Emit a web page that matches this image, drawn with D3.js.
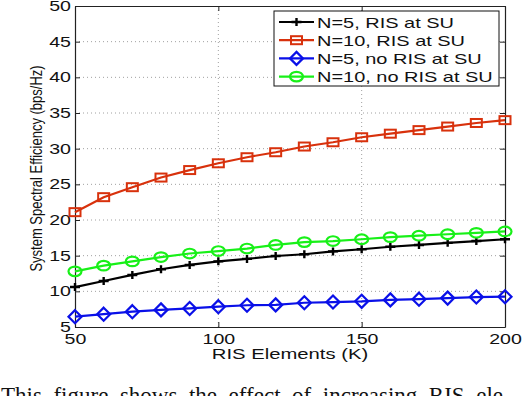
<!DOCTYPE html>
<html>
<head>
<meta charset="utf-8">
<script src="https://cdn.jsdelivr.net/npm/d3@7"></script>
<style>
  body { margin: 0; background: #fff; }
  svg { display: block; }
  text { font-family: "Liberation Sans", Arial, sans-serif; fill: #111; }
</style>
</head>
<body>
<div id="chart"></div>
<script>
// chart size
const width = 522;
const height = 396;
const margin = {top: 6, right: 17, bottom: 69, left: 75};
// the source picture is stretched sideways
const stretch = 1.35;

// data
const risElements = [50, 60, 70, 80, 90, 100, 110, 120, 130, 140, 150, 160, 170, 180, 190, 200];
const n5Ris = [10.6, 11.45, 12.3, 13.1, 13.7, 14.2, 14.55, 14.95, 15.2, 15.6, 15.9, 16.25, 16.5, 16.8, 17.05, 17.3];
const n10Ris = [21.1, 23.2, 24.6, 25.95, 27.0, 27.95, 28.8, 29.5, 30.3, 30.9, 31.6, 32.1, 32.6, 33.1, 33.6, 34.0];
const n5NoRis = [6.45, 6.8, 7.15, 7.4, 7.6, 7.85, 8.05, 8.1, 8.4, 8.5, 8.6, 8.8, 8.9, 9.05, 9.2, 9.25];
const n10NoRis = [12.8, 13.6, 14.2, 14.8, 15.3, 15.65, 16.0, 16.5, 16.9, 17.05, 17.3, 17.6, 17.8, 18.0, 18.2, 18.4];
const seriesNames = ["N=5, RIS at SU", "N=10, RIS at SU", "N=5, no RIS at SU", "N=10, no RIS at SU"];
const xTicks = [50, 100, 150, 200];
const yTicks = [5, 10, 15, 20, 25, 30, 35, 40, 45, 50];

const series = [
    {name: seriesNames[0], values: n5Ris, color: "#000000", marker: "plus"},
    {name: seriesNames[1], values: n10Ris, color: "#d8310c", marker: "square"},
    {name: seriesNames[2], values: n5NoRis, color: "#0a10e8", marker: "diamond"},
    {name: seriesNames[3], values: n10NoRis, color: "#18f018", marker: "circle"}
];

const svg = d3.select("#chart")
    .append("svg")
        .attr("width", width)
        .attr("height", height);

const x = d3.scaleLinear()
    .domain([50, 200])
    .range([margin.left, width - margin.right]);

const y = d3.scaleLinear()
    .domain([5, 50])
    .range([height - margin.bottom, margin.top]);

function widen(sel, f) {
    sel.each(function() {
        const w = this.getComputedTextLength();
        d3.select(this)
            .attr("textLength", w * f)
            .attr("lengthAdjust", "spacingAndGlyphs");
    });
}

// grid
const grid = svg.append("g").attr("class", "grid");
grid.selectAll(".gy")
    .data(yTicks.slice(1, -1))
    .enter()
    .append("line")
        .attr("x1", x.range()[0])
        .attr("x2", x.range()[1])
        .attr("y1", d => y(d))
        .attr("y2", d => y(d))
        .attr("stroke", "#888")
        .attr("stroke-width", 0.8)
        .attr("stroke-dasharray", "1,3");
grid.selectAll(".gx")
    .data(xTicks.slice(1, -1))
    .enter()
    .append("line")
        .attr("x1", d => x(d))
        .attr("x2", d => x(d))
        .attr("y1", y.range()[0])
        .attr("y2", y.range()[1])
        .attr("stroke", "#888")
        .attr("stroke-width", 0.8)
        .attr("stroke-dasharray", "1,3");

// axes (ticks inward, matlab box style)
const xAxis = svg.append("g")
    .attr("transform", `translate(0,${y.range()[0]})`)
    .call(d3.axisBottom(x).tickValues(xTicks).tickSizeInner(-5).tickSizeOuter(0).tickPadding(7));
const yAxis = svg.append("g")
    .attr("transform", `translate(${x.range()[0]},0)`)
    .call(d3.axisLeft(y).tickValues(yTicks).tickSizeInner(-5).tickSizeOuter(0).tickPadding(4));
svg.append("g")
    .attr("transform", `translate(0,${y.range()[1]})`)
    .call(d3.axisTop(x).tickValues(xTicks).tickSizeInner(-5).tickSizeOuter(0).tickFormat(""));
svg.append("g")
    .attr("transform", `translate(${x.range()[1]},0)`)
    .call(d3.axisRight(y).tickValues(yTicks).tickSizeInner(-5).tickSizeOuter(0).tickFormat(""));

svg.selectAll(".domain").attr("stroke", "#222").attr("stroke-width", 1.2);
svg.selectAll(".tick line").attr("stroke", "#222");
svg.selectAll(".tick text")
    .attr("font-size", 14.5)
    .attr("font-family", null)
    .attr("fill", "#111")
    .call(widen, stretch);

// axis labels
svg.append("text")
    .attr("x", 290)
    .attr("y", 359)
    .attr("text-anchor", "middle")
    .attr("font-size", 15)
    .text("RIS Elements (K)")
    .call(widen, stretch);

svg.append("text")
    .attr("transform", `translate(42,${(y.range()[0] + y.range()[1]) / 2 + 2}) rotate(-90) scale(1,1.2)`)
    .attr("text-anchor", "middle")
    .attr("font-size", 13)
    .text("System Spectral Efficiency (bps/Hz)");

// markers
function drawMarker(g, type, color) {
    if (type == "plus") {
        g.append("path")
            .attr("d", "M -5 0 L 5 0 M 0 -4 L 0 4")
            .attr("stroke", color).attr("stroke-width", 2.4).attr("fill", "none");
    } else if (type == "square") {
        g.append("rect")
            .attr("x", -5.5).attr("y", -4).attr("width", 11).attr("height", 8)
            .attr("stroke", color).attr("stroke-width", 2).attr("fill", "none");
    } else if (type == "diamond") {
        g.append("path")
            .attr("d", "M 0 -6.5 L 6.5 0 L 0 6.5 L -6.5 0 Z")
            .attr("stroke", color).attr("stroke-width", 2.2).attr("fill", "none");
    } else if (type == "circle") {
        g.append("ellipse")
            .attr("rx", 6.5).attr("ry", 4.8)
            .attr("stroke", color).attr("stroke-width", 2.2).attr("fill", "none");
    }
}

const line = d3.line()
    .x((d, i) => x(risElements[i]))
    .y(d => y(d));

series.forEach(s => {
    svg.append("path")
        .datum(s.values)
        .attr("d", line)
        .attr("fill", "none")
        .attr("stroke", s.color)
        .attr("stroke-width", 2.2);
    s.values.forEach((v, i) => {
        const g = svg.append("g")
            .attr("transform", `translate(${x(risElements[i])},${y(v)})`);
        drawMarker(g, s.marker, s.color);
    });
});

// legend
const legend = svg.append("g").attr("transform", "translate(274,11)");
legend.append("rect")
    .attr("width", 225)
    .attr("height", 75)
    .attr("fill", "#fff")
    .attr("stroke", "#111")
    .attr("stroke-width", 1);
series.forEach((s, i) => {
    const row = legend.append("g").attr("transform", `translate(0,${11 + i * 18.2})`);
    row.append("line")
        .attr("x1", 5).attr("x2", 40)
        .attr("stroke", s.color).attr("stroke-width", 2.2);
    const m = row.append("g").attr("transform", "translate(22.5,0)");
    drawMarker(m, s.marker, s.color);
    row.append("text")
        .attr("x", 43)
        .attr("y", 5.5)
        .attr("font-size", 15)
        .text(s.name)
        .call(widen, 1.33);
});

// caption line (cut off at the bottom)
svg.append("text")
    .attr("x", 1)
    .attr("y", 403)
    .style("font-family", "'Liberation Serif', 'Times New Roman', serif")
    .style("word-spacing", "5.8px")
    .attr("font-size", 23)
    .text("This figure shows the effect of increasing RIS ele");
</script>
</body>
</html>
